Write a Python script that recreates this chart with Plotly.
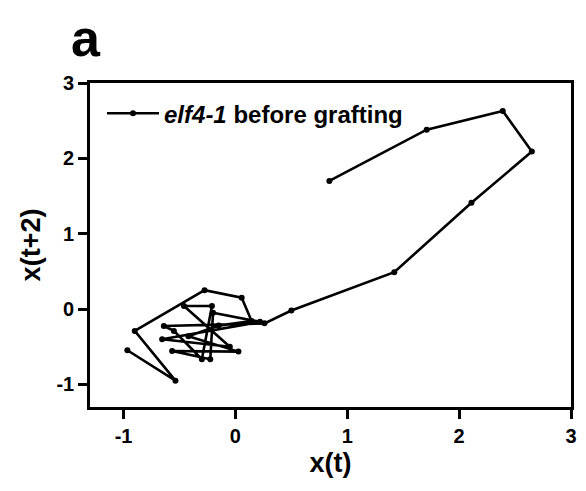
import plotly.graph_objects as go

# trajectory values: x(t) and x(t+2)
x_t = [0.84, 1.71, 2.39, 2.65, 2.11, 1.42, 0.50, 0.26, -0.64, -0.55, -0.30, -0.21,
       -0.46, -0.05, -0.655, 0.22, -0.20, -0.225, -0.566, 0.027, -0.42, -0.15,
       0.145, 0.056, -0.276, -0.90, -0.536, -0.966]
x_t2 = [1.70, 2.38, 2.63, 2.09, 1.41, 0.49, -0.02, -0.19, -0.225, -0.29, -0.666, 0.04,
        0.04, -0.50, -0.40, -0.17, -0.05, -0.666, -0.556, -0.565, -0.36, -0.22,
        -0.16, 0.15, 0.25, -0.29, -0.95, -0.547]
series_name = "<b><i>elf4-1</i> before grafting</b>"
tick_vals = [-1, 0, 1, 2, 3]
tick_text = ["-1", "0", "1", "2", "3"]

FONT = "Liberation Sans, Arial, sans-serif"

fig = go.Figure()
fig.add_trace(go.Scatter(
    x=x_t, y=x_t2, mode="lines+markers", name=series_name,
    line=dict(color="black", width=2.6),
    marker=dict(color="black", size=6),
))

axis_common = dict(
    showline=True, linewidth=2.6, linecolor="black", mirror=True,
    ticks="outside", ticklen=9, tickwidth=2.6, tickcolor="black",
    showgrid=False, zeroline=False,
    tickvals=tick_vals, ticktext=tick_text,
    tickfont=dict(family=FONT, size=20, color="black", weight="bold"),
)

fig.update_layout(
    width=578, height=483,
    margin=dict(l=82, r=9, t=75, b=84),
    paper_bgcolor="white", plot_bgcolor="white",
    font=dict(family=FONT, color="black"),
    xaxis=dict(range=[-1.3, 3],
               title=dict(text="<b>x(t)</b>", font=dict(family=FONT, size=27), standoff=8),
               **axis_common),
    yaxis=dict(range=[-1.3, 3],
               title=dict(text="<b>x(t+2)</b>", font=dict(family=FONT, size=27), standoff=8),
               **axis_common),
    showlegend=True,
    legend=dict(x=0.025, y=0.975, xanchor="left", yanchor="top",
                bgcolor="rgba(0,0,0,0)", itemwidth=52,
                font=dict(family=FONT, size=24, color="black")),
    annotations=[dict(text="<b>a</b>", xref="paper", yref="paper",
                      x=-0.008, y=1.14, xanchor="center", yanchor="middle",
                      showarrow=False, font=dict(family=FONT, size=52, color="black"))],
)

fig.write_html("out.html")
